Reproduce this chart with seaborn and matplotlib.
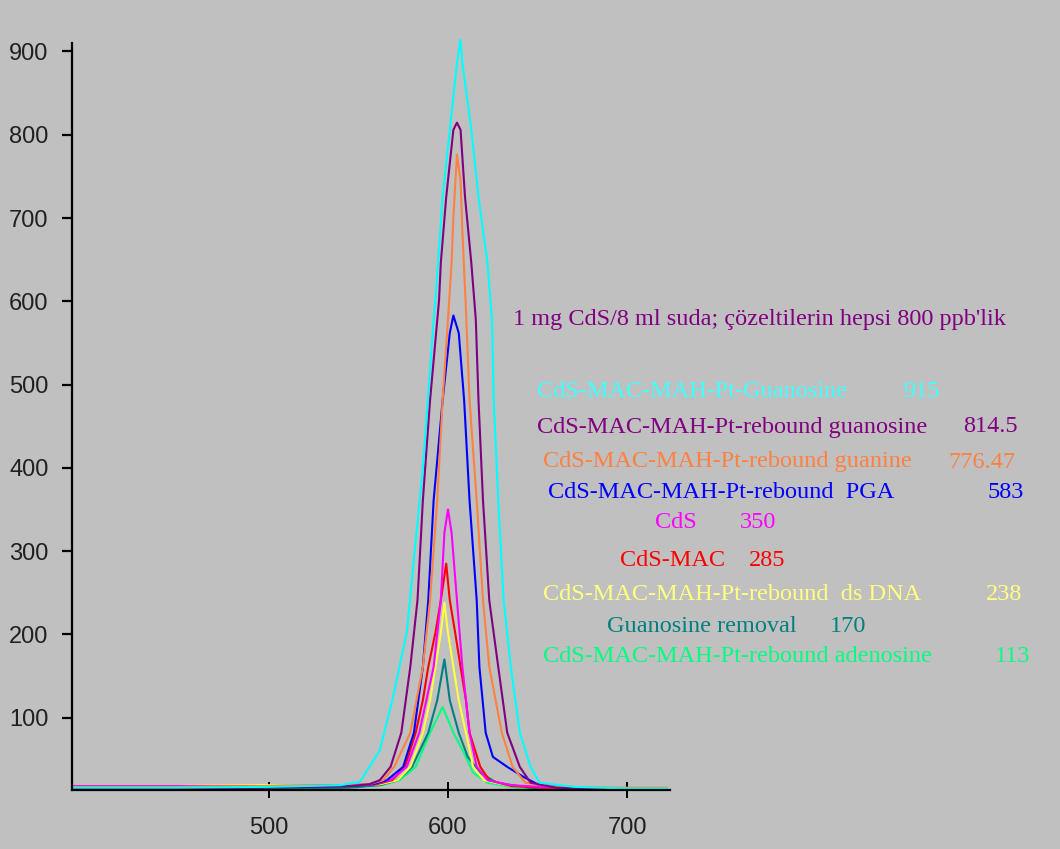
import numpy as np
import pandas as pd
import matplotlib.pyplot as plt
import seaborn as sns

# series (wavelength, intensity)
series_names = ["Guanosine", "rebound guanosine", "rebound guanine", "rebound PGA",
                "CdS", "CdS-MAC", "rebound dsDNA", "Guanosine removal", "rebound adenosine"]
line_colors = ["#00ffff", "#800080", "#ff8040", "#0000ff", "#ff00ff",
               "#ff0000", "#ffff40", "#008080", "#00ff80"]

cyan_x = [391, 450, 500, 540, 551, 562, 569, 577, 586, 592, 593, 597, 601, 605, 607,
          608, 613, 617, 622, 624.5, 625.5, 628, 631, 635, 640, 646, 651, 670, 700, 722]
cyan_y = [16, 16, 17, 19, 23, 61, 121, 202, 400, 578, 602, 725, 806, 886, 915,
          886, 806, 725, 646, 578, 481, 361, 241, 161, 82, 41, 22, 17, 15, 15]

purple_x = [391, 450, 500, 545, 556, 562, 568, 574, 579, 583, 586, 590, 595, 596, 599, 603,
            605, 607, 609.5, 613, 615.5, 617, 619.5, 623, 628, 633, 640, 646, 660, 700, 722]
purple_y = [15, 15, 16, 18, 20, 25, 41, 82, 161, 241, 361, 481, 601, 646, 725, 806,
            814.5, 806, 725, 646, 578, 481, 361, 241, 161, 82, 41, 22, 16, 14, 14]

orange_x = [391, 450, 500, 545, 556, 564, 570, 579, 586, 590, 594, 597, 600, 602, 603,
            605, 607, 608, 610, 612, 616, 619.5, 623, 630, 636, 643, 660, 700, 722]
orange_y = [17, 17, 18, 19, 20, 25, 41, 82, 161, 241, 361, 481, 578, 646, 701,
            776.47, 745, 685, 590, 481, 361, 241, 161, 82, 41, 22, 17, 16, 16]

blue_x = [391, 450, 500, 545, 558, 566, 575, 581, 586, 589, 592, 597, 601, 603,
          606, 609, 612, 616, 617.5, 621, 625, 633, 642, 650, 665, 700, 722]
blue_y = [16, 16, 17, 18, 20, 25, 41, 82, 161, 241, 361, 481, 562, 583,
          562, 481, 361, 241, 161, 82, 53, 41, 29, 20, 16, 15, 15]

magenta_x = [391, 450, 500, 545, 558, 568, 577, 584, 592, 596, 598, 600,
             602, 605, 608, 612, 616, 622, 635, 660, 700, 722]
magenta_y = [18, 18, 17, 19, 20, 25, 41, 82, 161, 241, 322, 350,
             322, 241, 161, 82, 41, 25, 19, 16, 15, 15]

red_x = [391, 450, 500, 545, 560, 569, 576, 582, 586, 589, 593, 596, 599,
         601, 604, 607, 610, 612, 618, 623, 635, 660, 700, 722]
red_y = [17, 17, 18, 19, 20, 25, 41, 82, 121, 161, 202, 241, 285,
         241, 202, 161, 121, 82, 41, 25, 18, 15, 14, 14]

yellow_x = [391, 450, 500, 545, 562, 572, 579, 586, 590, 593, 596, 598,
            600, 603, 606, 610, 614, 620, 635, 660, 700, 722]
yellow_y = [18, 18, 19, 19, 20, 25, 41, 82, 121, 161, 202, 238,
            202, 161, 121, 82, 41, 25, 18, 16, 15, 15]

teal_x = [391, 450, 500, 545, 562, 572, 580, 589, 594, 598, 601, 606, 611, 618, 627, 645, 680, 722]
teal_y = [13, 13, 14, 16, 19, 25, 41, 82, 121, 170, 121, 82, 53, 34, 22, 16, 15, 15]

green_x = [391, 450, 500, 545, 563, 573, 582, 590, 597, 603, 610, 614, 622, 640, 680, 722]
green_y = [15, 15, 16, 17, 19, 25, 41, 82, 113, 82, 53, 34, 22, 15, 14, 15]

xs = [cyan_x, purple_x, orange_x, blue_x, magenta_x, red_x, yellow_x, teal_x, green_x]
ys = [cyan_y, purple_y, orange_y, blue_y, magenta_y, red_y, yellow_y, teal_y, green_y]

frames = []
for name, x, y in zip(series_names, xs, ys):
    frames.append(pd.DataFrame({"wl": x, "val": y, "series": name}))
df = pd.concat(frames, ignore_index=True)

bg = "#c0c0c0"
fig = plt.figure(figsize=(10.6, 8.49), dpi=100, facecolor=bg)
ax = fig.add_axes([72 / 1060, 59 / 849, 598 / 1060, 751 / 849])
ax.set_facecolor(bg)

# draw in reverse so the tall curves sit on top like the original
sns.lineplot(data=df, x="wl", y="val", hue="series", hue_order=series_names[::-1],
             palette=dict(zip(series_names, line_colors)),
             estimator=None, sort=False, lw=1.5, legend=False, ax=ax)

ax.set_xlim(390.5, 723.7)
ax.set_ylim(13.2, 915)
ax.set_xlabel("")
ax.set_ylabel("")
for s in ["top", "right"]:
    ax.spines[s].set_visible(False)
ax.spines["left"].set_linewidth(1.6)
ax.spines["bottom"].set_linewidth(1.6)
ax.spines["left"].set_bounds(13.2, 910)

ax.set_yticks([100, 200, 300, 400, 500, 600, 700, 800, 900])
ax.set_xticks([500, 600, 700])
ax.tick_params(axis="y", direction="out", length=7, width=1.6, pad=10)
ax.tick_params(axis="x", direction="inout", length=11, width=1.4, pad=14)
ax.xaxis.get_major_ticks()[0].tick1line.set_color("#800080")
for lbl in ax.get_xticklabels() + ax.get_yticklabels():
    lbl.set_fontfamily("Liberation Sans")
    lbl.set_fontsize(17)
    lbl.set_color("#202020")

serif = "Liberation Serif"
fs = 17.5
fig.text(513 / 1060, 1 - 320 / 849, "1 mg CdS/8 ml suda; çözeltilerin hepsi 800 ppb'lik",
         color="#800080", family=serif, fontsize=fs, va="center")

labels = ["CdS-MAC-MAH-Pt-Guanosine", "CdS-MAC-MAH-Pt-rebound guanosine",
          "CdS-MAC-MAH-Pt-rebound guanine", "CdS-MAC-MAH-Pt-rebound  PGA", "CdS",
          "CdS-MAC", "CdS-MAC-MAH-Pt-rebound  ds DNA", "Guanosine removal",
          "CdS-MAC-MAH-Pt-rebound adenosine"]
values = ["915", "814.5", "776.47", "583", "350", "285", "238", "170", "113"]
text_colors = ["#40ffff", "#800080", "#ff8040", "#0000ff", "#ff00ff",
               "#ff0000", "#ffff80", "#008080", "#00ff80"]
label_left = [537, 537, 543, 548, 655, 620, 543, 607, 543]
value_right = [940, 1018, 1015, 1024, 776, 785, 1022, 866, 1030]
label_y = [392, 427, 462, 492, 523, 560, 595, 627, 657]

for lab, val, c, lx, vx, ly in zip(labels, values, text_colors, label_left, value_right, label_y):
    fig.text(lx / 1060, 1 - ly / 849, lab, color=c, family=serif, fontsize=fs, va="center")
    fig.text(vx / 1060, 1 - ly / 849, val, color=c, family=serif, fontsize=fs,
             va="center", ha="right")

fig.savefig("out.png", dpi=100, facecolor=bg)
